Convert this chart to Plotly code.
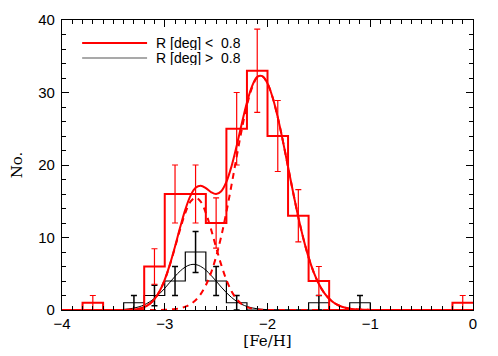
import plotly.graph_objects as go

# histogram bins of [Fe/H], width 0.2 dex, from -4 to 0
bin_edges = [-4.0, -3.8, -3.6, -3.4, -3.2, -3.0, -2.8, -2.6, -2.4, -2.2, -2.0,
             -1.8, -1.6, -1.4, -1.2, -1.0, -0.8, -0.6, -0.4, -0.2, 0.0]
n_inner = [0, 1, 0, 0, 6, 16, 16, 12, 25, 33, 24, 13, 4, 0, 0, 0, 0, 0, 0, 1]   # R < 0.8 deg
n_outer = [0, 0, 0, 1, 2, 4, 8, 4, 1, 0, 0, 0, 1, 0, 1, 0, 0, 0, 0, 0]          # R > 0.8 deg

# Poisson error bars at bin centres
err_x_inner = [-3.7, -3.1, -2.9, -2.7, -2.5, -2.3, -2.1, -1.9, -1.7, -1.5, -0.1]
err_y_inner = [1, 6, 16, 16, 12, 25, 33, 24, 13, 4, 1]
err_inner = [1.0, 2.45, 4.0, 4.0, 3.46, 5.0, 5.74, 4.9, 3.61, 2.0, 1.0]
err_x_outer = [-3.3, -3.1, -2.9, -2.7, -2.5, -2.3, -1.5, -1.1]
err_y_outer = [1, 2, 4, 8, 4, 1, 1, 1]
err_outer = [1.0, 1.41, 2.0, 2.83, 2.0, 1.0, 1.0, 1.0]

# fitted curves, sampled every 0.05 dex from -4 to 0
feh_grid = [round(-4.0 + 0.05 * i, 2) for i in range(81)]
fit_total = [0.0] * 12 + [
    0.01, 0.03, 0.08, 0.19, 0.40, 0.81, 1.50, 2.60, 4.19, 6.29, 8.77, 11.41, 13.85,
    15.74, 16.85, 17.13, 16.81, 16.27, 16.00, 16.39, 17.68, 19.84, 22.65, 25.73, 28.62,
    30.87, 32.15, 32.25, 31.26, 29.31, 26.57, 23.29, 19.74, 16.17, 12.81, 9.81, 7.26,
    5.19, 3.59, 2.40, 1.55, 0.97, 0.59, 0.34, 0.19, 0.11, 0.06, 0.03, 0.01] + [0.0] * 20
fit_metal_poor = [0.0] * 12 + [
    0.01, 0.03, 0.08, 0.19, 0.40, 0.80, 1.50, 2.59, 4.16, 6.22, 8.64, 11.16, 13.39,
    14.94, 15.50, 14.94, 13.39, 11.16, 8.64, 6.22, 4.16, 2.59, 1.50, 0.80, 0.40, 0.19,
    0.08, 0.03, 0.01] + [0.0] * 40
fit_metal_rich = [0.0] * 19 + [
    0.01, 0.03, 0.07, 0.13, 0.25, 0.46, 0.80, 1.35, 2.19, 3.42, 5.11, 7.36, 10.17,
    13.52, 17.25, 21.15, 24.93, 28.22, 30.68, 32.07, 32.22, 31.25, 29.31, 26.57, 23.29,
    19.74, 16.17, 12.81, 9.81, 7.26, 5.19, 3.59, 2.40, 1.55, 0.97, 0.59, 0.34, 0.19,
    0.11, 0.06, 0.03, 0.01] + [0.0] * 20
fit_outer = [0.0] * 9 + [
    0.01, 0.02, 0.04, 0.08, 0.15, 0.26, 0.44, 0.71, 1.10, 1.61, 2.25, 3.00, 3.82, 4.64,
    5.37, 5.93, 6.25, 6.28, 6.01, 5.50, 4.79, 3.99, 3.16, 2.39, 1.73, 1.19, 0.78, 0.49,
    0.29, 0.17, 0.09, 0.05, 0.02, 0.01] + [0.0] * 38

legend_labels = ["R [deg] <\u00a0 0.8", "R [deg] >\u00a0 0.8"]

RED = "#ff0000"
fig = go.Figure()

# R > 0.8 (black)
fig.add_trace(go.Scatter(x=bin_edges, y=n_outer + [n_outer[-1]], mode="lines",
                         line=dict(color="black", width=1.2, shape="hv")))
fig.add_trace(go.Scatter(x=err_x_outer, y=err_y_outer, mode="markers",
                         marker=dict(size=1, opacity=0),
                         error_y=dict(type="data", array=err_outer, color="black",
                                      thickness=1.5, width=3)))
fig.add_trace(go.Scatter(x=feh_grid, y=fit_outer, mode="lines",
                         line=dict(color="black", width=1, shape="spline")))

# R < 0.8 (red)
fig.add_trace(go.Scatter(x=bin_edges, y=n_inner + [n_inner[-1]], mode="lines",
                         line=dict(color=RED, width=2, shape="hv")))
fig.add_trace(go.Scatter(x=err_x_inner, y=err_y_inner, mode="markers",
                         marker=dict(size=1, opacity=0),
                         error_y=dict(type="data", array=err_inner, color=RED,
                                      thickness=1.2, width=3)))
fig.add_trace(go.Scatter(x=feh_grid, y=fit_metal_poor, mode="lines",
                         line=dict(color=RED, width=2, dash="6px,5px", shape="spline")))
fig.add_trace(go.Scatter(x=feh_grid, y=fit_metal_rich, mode="lines",
                         line=dict(color=RED, width=2, dash="6px,5px", shape="spline")))
fig.add_trace(go.Scatter(x=feh_grid, y=fit_total, mode="lines",
                         line=dict(color=RED, width=2, shape="spline")))

# hand-drawn legend (long line samples, as in the original)
leg_y = [0.921, 0.869]
fig.add_shape(type="line", xref="paper", yref="paper", x0=0.049, x1=0.207, y0=leg_y[0], y1=leg_y[0],
              line=dict(color=RED, width=2))
fig.add_shape(type="line", xref="paper", yref="paper", x0=0.049, x1=0.207, y0=leg_y[1], y1=leg_y[1],
              line=dict(color="#555555", width=1.2))
for lab, yy in zip(legend_labels, leg_y):
    fig.add_annotation(text=lab, xref="paper", yref="paper", x=0.226, y=yy,
                       xanchor="left", yanchor="middle", showarrow=False, height=14,
                       borderpad=0,
                       font=dict(family="Liberation Sans", size=14, color="black"))

axis_common = dict(showline=True, linecolor="black", linewidth=1.3, mirror="allticks",
                   ticks="inside", ticklen=7, tickwidth=1.2, tickcolor="black",
                   showgrid=False, zeroline=False, automargin=False,
                   tickfont=dict(family="Liberation Sans", size=15, color="black"))
fig.update_xaxes(range=[-4, 0], dtick=1, tick0=0,
                 minor=dict(dtick=0.1, ticks="inside", ticklen=4, tickcolor="black", tickwidth=1),
                 title=dict(text="[Fe/H]", font=dict(family="DejaVu Serif", size=15, color="black"),
                            standoff=3),
                 **axis_common)
fig.update_yaxes(range=[0, 40], dtick=10, tick0=0, ticklabelstandoff=3,
                 minor=dict(dtick=2, ticks="inside", ticklen=4, tickcolor="black", tickwidth=1),
                 title=dict(text="No.", font=dict(family="DejaVu Serif", size=15, color="black"),
                            standoff=11),
                 **axis_common)

# the page body adds an 8 px offset, so the figure is sized to fit the window
fig.update_layout(width=490, height=348, showlegend=False,
                  margin=dict(l=54, r=25, t=12, b=46),
                  plot_bgcolor="white", paper_bgcolor="white")

fig.write_html("out.html")
